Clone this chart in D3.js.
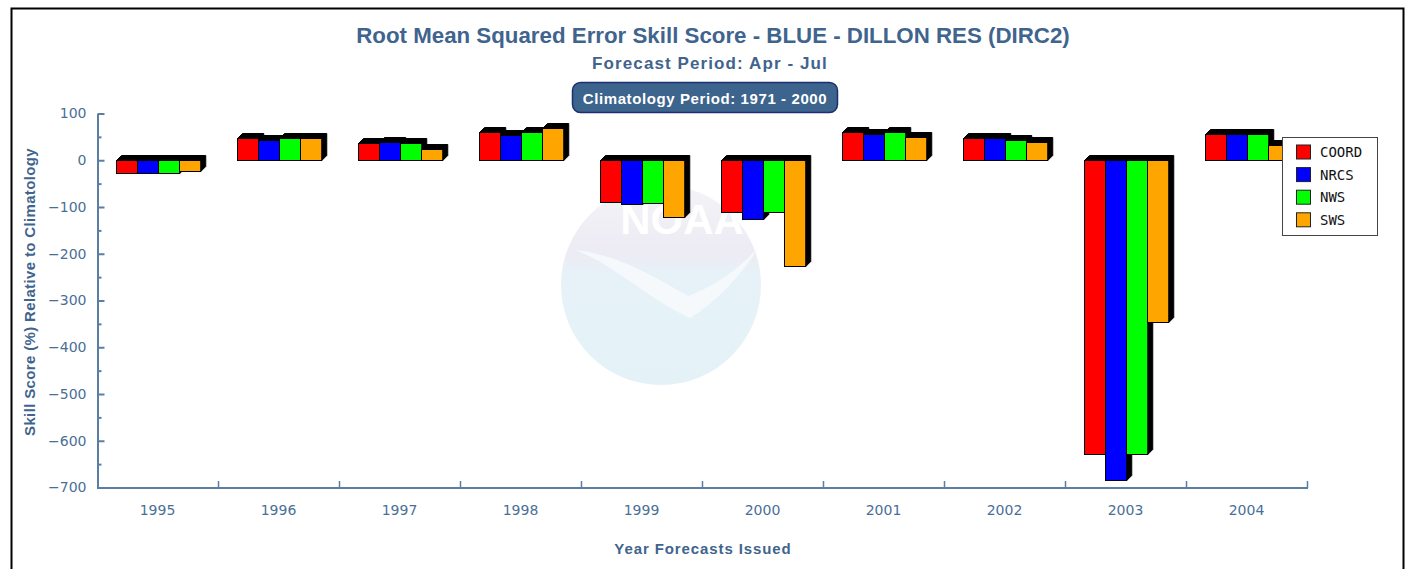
<!DOCTYPE html>
<html>
<head>
<meta charset="utf-8">
<script src="https://d3js.org/d3.v7.min.js"></script>
<style>
  body { margin: 0; background: #fff; }
  svg { display: block; }
</style>
</head>
<body>
<svg width="1409" height="569"></svg>
<script>
var svg = d3.select('svg');

// data
var years = ["1995", "1996", "1997", "1998", "1999", "2000", "2001", "2002", "2003", "2004"];
var series_names = ["COORD", "NRCS", "NWS", "SWS"];
var series_colors = ["#ff0000", "#0000ff", "#00ff00", "#ffa500"];
var coord_vals = [-28, 48, 36, 60, -89, -111, 61, 47, -628, 57];
var nrcs_vals = [-28, 44, 39, 54, -93, -125, 57, 48, -683, 57];
var nws_vals = [-28, 47, 36, 60, -91, -110, 60, 44, -628, 57];
var sws_vals = [-24, 47, 24, 69, -121, -227, 50, 39, -347, 32];
var y_ticks = [100, 0, -100, -200, -300, -400, -500, -600, -700];

var all_vals = [coord_vals, nrcs_vals, nws_vals, sws_vals];

var blue_text = '#3f648d';
var axis_col = '#5b7fa4';
var depth = 5;

var plot_left = 97;
var plot_right = 1307;

var x0 = d3.scaleBand().domain(years).range([plot_left, plot_right]);
var x1 = d3.scaleBand().domain(series_names).range([0, 85]);
var y = d3.scaleLinear().domain([-700, 100]).range([487.5, 113.5]);

// outer frame
svg.append('rect')
  .attr('x', 11.5).attr('y', 8.5)
  .attr('width', 1392).attr('height', 600)
  .attr('fill', 'none').attr('stroke', '#000').attr('stroke-width', 2);

// faint NOAA watermark behind the plot
var wm = svg.append('g').attr('opacity', 0.9);
var grad = svg.append('defs').append('linearGradient')
  .attr('id', 'wmgrad').attr('x1', 0).attr('y1', 0).attr('x2', 0).attr('y2', 1);
grad.append('stop').attr('offset', '0%').attr('stop-color', '#f3f2f7');
grad.append('stop').attr('offset', '35%').attr('stop-color', '#ebeaf3');
grad.append('stop').attr('offset', '45%').attr('stop-color', '#e4f1f8');
grad.append('stop').attr('offset', '100%').attr('stop-color', '#e2f1f8');
wm.append('circle')
  .attr('cx', 661).attr('cy', 285).attr('r', 100)
  .attr('fill', 'url(#wmgrad)');
// wing shape
wm.append('path')
  .attr('d', 'M575,250 C610,262 650,300 690,318 C720,300 745,270 760,245 C735,275 705,290 688,296 C660,280 620,255 575,250 Z')
  .attr('fill', '#f6f9fc');
wm.append('text')
  .attr('x', 682).attr('y', 234)
  .attr('text-anchor', 'middle')
  .attr('font-family', 'Liberation Sans, Arial, sans-serif')
  .attr('font-weight', 'bold')
  .attr('font-size', 42)
  .attr('fill', '#ffffff')
  .text('NOAA');

// titles
svg.append('text')
  .attr('x', 713).attr('y', 43)
  .attr('text-anchor', 'middle')
  .attr('font-family', 'Liberation Sans, Arial, sans-serif')
  .attr('font-weight', 'bold')
  .attr('font-size', 22.3)
  .attr('fill', blue_text)
  .text('Root Mean Squared Error Skill Score - BLUE - DILLON RES (DIRC2)');

svg.append('text')
  .attr('x', 710).attr('y', 69)
  .attr('text-anchor', 'middle')
  .attr('font-family', 'Liberation Sans, Arial, sans-serif')
  .attr('font-weight', 'bold')
  .attr('font-size', 17)
  .attr('letter-spacing', 1.1)
  .attr('fill', blue_text)
  .text('Forecast Period: Apr - Jul');

svg.append('rect')
  .attr('x', 572.5).attr('y', 82.5)
  .attr('width', 265).attr('height', 30)
  .attr('rx', 8)
  .attr('fill', '#3c648c')
  .attr('stroke', '#1d2f70').attr('stroke-width', 1.5);

svg.append('text')
  .attr('x', 705).attr('y', 103.5)
  .attr('text-anchor', 'middle')
  .attr('font-family', 'Liberation Sans, Arial, sans-serif')
  .attr('font-weight', 'bold')
  .attr('font-size', 15)
  .attr('letter-spacing', 0.6)
  .attr('fill', '#fff')
  .text('Climatology Period: 1971 - 2000');

// bars with a black extruded side, drawn left to right so they overlap properly
var bar_db = [];
years.forEach(function(yr, i) {
  series_names.forEach(function(s, j) {
    bar_db.push({year: yr, series: s, value: all_vals[j][i], color: series_colors[j]});
  });
});

var bars = svg.append('g');
var bar_g = bars.selectAll('.bar_g')
  .data(bar_db)
  .enter()
  .append('g')
  .attr('class', 'bar_g');

function barBox(d) {
  var xa = Math.round(x0(d.year) + 18.5 + x1(d.series)) + 0.5;
  var xb = xa + x1.bandwidth();
  var ya = Math.round(y(Math.max(0, d.value))) + 0.5;
  var yb = Math.round(y(Math.min(0, d.value))) + 0.5;
  return {xa: xa, xb: xb, ya: ya, yb: yb};
}

bar_g.append('polygon')
  .attr('points', function(d) {
    var b = barBox(d);
    return [
      [b.xa, b.ya], [b.xa + depth, b.ya - depth], [b.xb + depth, b.ya - depth],
      [b.xb + depth, b.yb - depth], [b.xb, b.yb], [b.xa, b.yb]
    ].join(' ');
  })
  .attr('fill', '#000')
  .attr('stroke', '#000')
  .attr('stroke-width', 1);

bar_g.append('rect')
  .attr('x', function(d) { return barBox(d).xa; })
  .attr('y', function(d) { return barBox(d).ya; })
  .attr('width', x1.bandwidth())
  .attr('height', function(d) { var b = barBox(d); return b.yb - b.ya; })
  .attr('fill', function(d) { return d.color; })
  .attr('stroke', '#000')
  .attr('stroke-width', 1);

// y axis: major ticks point inward, labels on the left
var y_axis = svg.append('g')
  .attr('transform', 'translate(' + (plot_left + 0.5) + ',0)')
  .call(d3.axisLeft(y).tickValues(y_ticks).tickSizeInner(-7).tickSizeOuter(0).tickPadding(11));

svg.append('g')
  .attr('transform', 'translate(' + (plot_left + 0.5) + ',0)')
  .call(d3.axisLeft(y).tickValues([50, -50, -150, -250, -350, -450, -550, -650]).tickSize(-4).tickFormat(''))
  .call(function(g) { g.select('.domain').remove(); });

svg.selectAll('.tick line, .domain')
  .attr('stroke', axis_col)
  .attr('stroke-width', 2);

y_axis.selectAll('text')
  .attr('font-family', 'DejaVu Sans, sans-serif')
  .attr('font-size', 14)
  .attr('fill', '#4a6f97');

// x axis
var x_axis = svg.append('g');
x_axis.append('line')
  .attr('x1', plot_left).attr('x2', plot_right + 1)
  .attr('y1', 488).attr('y2', 488)
  .attr('stroke', axis_col).attr('stroke-width', 2);

x_axis.selectAll('.xtick')
  .data(years)
  .enter()
  .append('line')
  .attr('class', 'xtick')
  .attr('x1', function(d) { return x0(d) + x0.bandwidth() + 0.5; })
  .attr('x2', function(d) { return x0(d) + x0.bandwidth() + 0.5; })
  .attr('y1', 488).attr('y2', 481)
  .attr('stroke', axis_col).attr('stroke-width', 1.5);

x_axis.selectAll('.xlabel')
  .data(years)
  .enter()
  .append('text')
  .attr('class', 'xlabel')
  .attr('x', function(d) { return x0(d) + x0.bandwidth() / 2; })
  .attr('y', 515)
  .attr('text-anchor', 'middle')
  .attr('font-family', 'DejaVu Sans, sans-serif')
  .attr('font-size', 14)
  .attr('fill', '#4a6f97')
  .text(function(d) { return d; });

// axis titles
svg.append('text')
  .attr('x', (plot_left + plot_right) / 2 + 1).attr('y', 554)
  .attr('text-anchor', 'middle')
  .attr('font-family', 'Liberation Sans, Arial, sans-serif')
  .attr('font-weight', 'bold')
  .attr('font-size', 15)
  .attr('letter-spacing', 0.9)
  .attr('fill', blue_text)
  .text('Year Forecasts Issued');

svg.append('text')
  .attr('transform', 'translate(35,292) rotate(-90)')
  .attr('text-anchor', 'middle')
  .attr('font-family', 'Liberation Sans, Arial, sans-serif')
  .attr('font-weight', 'bold')
  .attr('font-size', 15)
  .attr('letter-spacing', 0.35)
  .attr('fill', blue_text)
  .text('Skill Score (%) Relative to Climatology');

// legend
var legend = svg.append('g');
legend.append('rect')
  .attr('x', 1282.5).attr('y', 137.5)
  .attr('width', 95).attr('height', 98)
  .attr('fill', '#fff')
  .attr('stroke', '#444').attr('stroke-width', 1);

var legend_items = legend.selectAll('.legend-item')
  .data(series_names)
  .enter()
  .append('g')
  .attr('class', 'legend-item')
  .attr('transform', function(d, i) { return 'translate(0,' + (152 + i * 22.6) + ')'; });

legend_items.append('rect')
  .attr('x', 1296.5).attr('y', -7)
  .attr('width', 14).attr('height', 14)
  .attr('fill', function(d, i) { return series_colors[i]; })
  .attr('stroke', '#222').attr('stroke-width', 1);

legend_items.append('text')
  .attr('x', 1320).attr('y', 5)
  .attr('font-family', 'DejaVu Sans Mono, monospace')
  .attr('font-size', 14)
  .attr('fill', '#111')
  .text(function(d) { return d; });
</script>
</body>
</html>
